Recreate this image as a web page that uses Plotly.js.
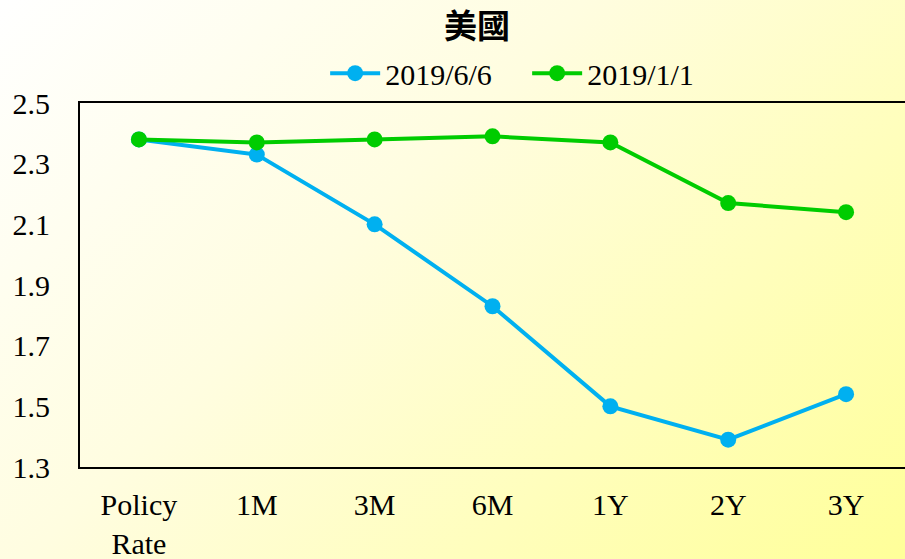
<!DOCTYPE html>
<html>
<head>
<meta charset="utf-8">
<script src="https://cdn.plot.ly/plotly-3.0.1.min.js"></script>
<style>
html,body{margin:0;padding:0;}
#chart{width:905px;height:559px;background:linear-gradient(135deg,#ffffff 0%,#fffde0 40%,#ffff99 100%);}
</style>
</head>
<body>
<div id="chart"></div>
<script>
const categories = ["Policy<br>Rate", "1M", "3M", "6M", "1Y", "2Y", "3Y"];
const series1Name = "2019/6/6";
const series1 = [2.38, 2.33, 2.10, 1.83, 1.50, 1.39, 1.54];
const series2Name = "2019/1/1";
const series2 = [2.38, 2.37, 2.38, 2.39, 2.37, 2.17, 2.14];
const yTicks = [1.3, 1.5, 1.7, 1.9, 2.1, 2.3, 2.5];
const yTickText = ["1.3", "1.5", "1.7", "1.9", "2.1", "2.3", "2.5"];

const serif = "Liberation Serif";
const traces = [
  {x: categories, y: series1, name: series1Name, type: "scatter", mode: "lines+markers",
   line: {color: "#00B0F0", width: 4}, marker: {color: "#00B0F0", size: 16}},
  {x: categories, y: series2, name: series2Name, type: "scatter", mode: "lines+markers",
   line: {color: "#00CC00", width: 4}, marker: {color: "#00CC00", size: 16}}
];
const layout = {
  width: 905, height: 559,
  margin: {l: 80, r: 0, t: 103, b: 92},
  paper_bgcolor: "rgba(0,0,0,0)", plot_bgcolor: "rgba(0,0,0,0)",
  font: {family: serif, size: 30, color: "#000"},
  title: {text: "<b>美國</b>", x: 0.527, xanchor: "center", y: 0.952, yanchor: "middle",
          font: {family: "Noto Sans CJK TC", size: 33, color: "#000"}},
  showlegend: true,
  legend: {orientation: "h", x: 0.542, xanchor: "center", y: 1.082, yanchor: "middle",
           bgcolor: "rgba(0,0,0,0)", font: {family: serif, size: 30, color: "#000"},
           itemwidth: 50, entrywidth: 137, entrywidthmode: "pixels"},
  xaxis: {type: "category", range: [-0.5, 6.5], showgrid: false, zeroline: false,
          showline: true, linecolor: "#000", linewidth: 2, mirror: true,
          ticks: "outside", ticklen: 10, tickcolor: "rgba(0,0,0,0)",
          tickfont: {family: serif, size: 30}},
  yaxis: {range: [1.3, 2.5], tickvals: yTicks, ticktext: yTickText, showgrid: false, zeroline: false,
          showline: true, linecolor: "#000", linewidth: 2,
          ticks: "outside", ticklen: 22, tickcolor: "rgba(0,0,0,0)",
          tickfont: {family: serif, size: 30}}
};
Plotly.newPlot("chart", traces, layout, {displayModeBar: false, staticPlot: true});
</script>
</body>
</html>
